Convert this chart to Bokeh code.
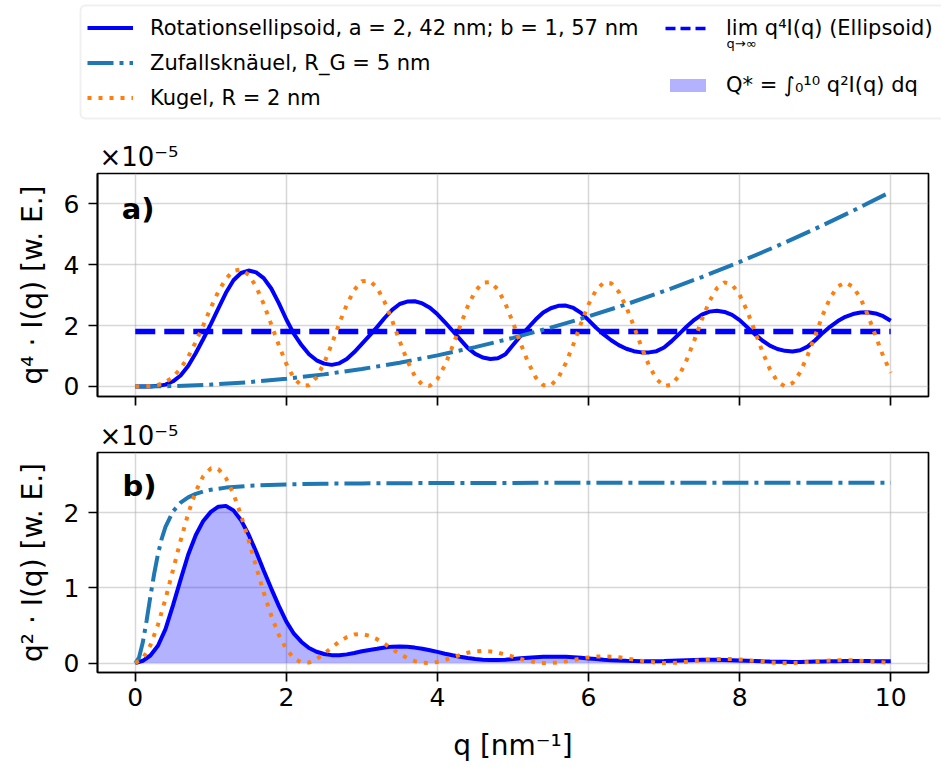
import numpy as np
from bokeh.plotting import figure
from bokeh.models import Range1d, FixedTicker, Label, Legend, LegendItem, BoxAnnotation
from bokeh.layouts import column, row
from bokeh.embed import file_html
from bokeh.resources import INLINE

FONT = "DejaVu Sans"

# q grid (nm^-1)
q = np.round(np.arange(0, 101) * 0.1, 1)

# panel a: q^4 I(q)  (x 1e-5)
ellipsoid_a = [0.00, 0.00, 0.00, 0.02, 0.06, 0.17, 0.36, 0.67, 1.09, 1.56,
               2.05, 2.57, 3.08, 3.49, 3.73, 3.81, 3.75, 3.56, 3.22, 2.74,
               2.20, 1.73, 1.36, 1.06, 0.86, 0.75, 0.71, 0.76, 0.90, 1.13,
               1.40, 1.67, 1.95, 2.25, 2.52, 2.71, 2.79, 2.80, 2.73, 2.59,
               2.37, 2.11, 1.83, 1.55, 1.27, 1.07, 0.95, 0.90, 0.93, 1.06,
               1.36, 1.66, 1.93, 2.20, 2.43, 2.57, 2.65, 2.66, 2.58, 2.42,
               2.18, 1.93, 1.71, 1.52, 1.36, 1.24, 1.16, 1.12, 1.12, 1.16,
               1.28, 1.49, 1.73, 1.97, 2.19, 2.36, 2.46, 2.49, 2.45, 2.35,
               2.18, 1.95, 1.72, 1.51, 1.34, 1.23, 1.17, 1.15, 1.19, 1.31,
               1.52, 1.76, 1.97, 2.15, 2.29, 2.38, 2.43, 2.44, 2.40, 2.31,
               2.16]
sphere_a = [0.00, 0.00, 0.01, 0.05, 0.14, 0.31, 0.59, 0.97, 1.46, 2.01,
            2.59, 3.12, 3.54, 3.80, 3.85, 3.67, 3.28, 2.71, 2.04, 1.36,
            0.74, 0.27, 0.03, 0.04, 0.30, 0.77, 1.39, 2.07, 2.69, 3.18,
            3.46, 3.48, 3.25, 2.78, 2.17, 1.49, 0.85, 0.34, 0.05, 0.02,
            0.25, 0.70, 1.32, 1.99, 2.63, 3.13, 3.41, 3.43, 3.19, 2.72,
            2.10, 1.42, 0.79, 0.30, 0.04, 0.03, 0.29, 0.77, 1.39, 2.07,
            2.70, 3.17, 3.41, 3.39, 3.11, 2.61, 1.98, 1.30, 0.69, 0.24,
            0.01, 0.06, 0.36, 0.88, 1.52, 2.20, 2.80, 3.23, 3.42, 3.35,
            3.01, 2.48, 1.82, 1.15, 0.57, 0.16, 0.00, 0.11, 0.46, 1.02,
            1.68, 2.35, 2.92, 3.29, 3.42, 3.28, 2.90, 2.33, 1.66, 1.00,
            0.45]
coil_q_a = [0, 0.5, 1, 1.5, 2, 2.5, 3, 3.5, 4, 4.5, 5, 5.5, 6, 6.5, 7, 7.5, 8, 8.5, 9, 9.5, 10]
coil_a = [0.0, 0.013, 0.061, 0.141, 0.253, 0.397, 0.573, 0.781, 1.021, 1.293, 1.597,
          1.933, 2.301, 2.701, 3.133, 3.597, 4.093, 4.621, 5.181, 5.773, 6.397]
porod_q = [0, 10]
porod_limit = [1.81, 1.81]

# panel b: q^2 I(q)  (x 1e-5)
ellipsoid_b = [0.000, 0.030, 0.100, 0.230, 0.450, 0.770, 1.110, 1.440, 1.700, 1.890,
               2.010, 2.080, 2.090, 2.030, 1.900, 1.710, 1.480, 1.230, 0.990, 0.760,
               0.550, 0.390, 0.280, 0.200, 0.150, 0.120, 0.105, 0.104, 0.115, 0.134,
               0.156, 0.174, 0.190, 0.207, 0.218, 0.221, 0.215, 0.205, 0.189, 0.170,
               0.148, 0.124, 0.103, 0.083, 0.066, 0.053, 0.045, 0.041, 0.040, 0.044,
               0.054, 0.064, 0.071, 0.078, 0.083, 0.085, 0.085, 0.082, 0.077, 0.070,
               0.061, 0.052, 0.044, 0.038, 0.033, 0.029, 0.027, 0.025, 0.024, 0.025,
               0.026, 0.030, 0.034, 0.037, 0.040, 0.042, 0.043, 0.042, 0.040, 0.038,
               0.034, 0.030, 0.026, 0.022, 0.019, 0.017, 0.016, 0.015, 0.015, 0.017,
               0.019, 0.021, 0.023, 0.025, 0.026, 0.026, 0.026, 0.026, 0.025, 0.024,
               0.022]
sphere_b = [0.000, 0.060, 0.235, 0.508, 0.853, 1.239, 1.628, 1.986, 2.281, 2.487,
            2.589, 2.579, 2.461, 2.249, 1.964, 1.632, 1.281, 0.939, 0.631, 0.375,
            0.184, 0.062, 0.006, 0.007, 0.052, 0.124, 0.206, 0.283, 0.344, 0.378,
            0.385, 0.362, 0.317, 0.256, 0.187, 0.121, 0.065, 0.025, 0.004, 0.001,
            0.015, 0.042, 0.075, 0.108, 0.136, 0.154, 0.161, 0.155, 0.138, 0.113,
            0.084, 0.055, 0.029, 0.011, 0.001, 0.001, 0.009, 0.024, 0.041, 0.060,
            0.075, 0.085, 0.089, 0.085, 0.076, 0.062, 0.045, 0.029, 0.015, 0.005,
            0.000, 0.001, 0.007, 0.017, 0.028, 0.039, 0.048, 0.054, 0.056, 0.054,
            0.047, 0.038, 0.027, 0.017, 0.008, 0.002, 0.000, 0.001, 0.006, 0.013,
            0.021, 0.028, 0.034, 0.038, 0.039, 0.036, 0.031, 0.025, 0.017, 0.010,
            0.004]
coil_q_b = [0, 0.05, 0.1, 0.15, 0.2, 0.25, 0.3, 0.35, 0.4, 0.5, 0.6, 0.7, 0.8, 0.9,
            1.0, 1.2, 1.5, 2.0, 2.5, 3, 4, 5, 6, 7, 8, 9, 10]
coil_b = [0.0, 0.073, 0.276, 0.564, 0.883, 1.186, 1.446, 1.653, 1.811, 2.017, 2.133,
          2.204, 2.250, 2.281, 2.304, 2.333, 2.357, 2.376, 2.385, 2.389, 2.394, 2.396,
          2.397, 2.398, 2.398, 2.399, 2.399]

x_ticks = [0, 2, 4, 6, 8, 10]
ticks_a = [0, 2, 4, 6]
ticks_b = [0, 1, 2]

label_ell = "Rotationsellipsoid, a = 2, 42 nm; b = 1, 57 nm"
label_coil = "Zufallsknäuel, R_G = 5 nm"
label_sph = "Kugel, R = 2 nm"
label_lim = "lim q⁴I(q) (Ellipsoid)"
label_inv = "Q* = ∫₀¹⁰ q²I(q) dq"

ELL = "#0000ff"
COIL = "#1f77b4"
SPH = "#ff7f0e"

ell_style = dict(line_color=ELL, line_width=4)
coil_style = dict(line_color=COIL, line_width=4, line_dash="26 6 4 6")
sph_style = dict(line_color=SPH, line_width=4, line_dash="4 7")
lim_style = dict(line_color=ELL, line_width=5.5, line_dash="20 9")
lim_legend_style = dict(line_color=ELL, line_width=3.3, line_dash="10 5")

FRAME_L, FRAME_R = 97, 928
xr = Range1d(-0.5, 10.5)


def style(p, offset_text):
    p.background_fill_color = "white"
    p.border_fill_color = "white"
    p.outline_line_color = "black"
    p.outline_line_width = 1.7
    p.outline_line_alpha = 1.0
    for g in (p.xgrid[0], p.ygrid[0]):
        g.grid_line_color = "#b0b0b0"
        g.grid_line_alpha = 0.5
        g.grid_line_width = 1.5
    for ax in (p.xaxis[0], p.yaxis[0]):
        ax.axis_line_width = 1.7
        ax.axis_line_color = "black"
        ax.major_tick_out = 9
        ax.major_tick_in = 0
        ax.major_tick_line_width = 1.7
        ax.minor_tick_line_color = None
        ax.major_label_text_font = FONT
        ax.major_label_text_font_size = "25px"
        ax.major_label_text_color = "black"
        ax.axis_label_text_font = FONT
        ax.axis_label_text_font_size = "28px"
        ax.axis_label_text_font_style = "normal"
        ax.axis_label_text_color = "black"
    p.yaxis[0].major_label_standoff = 9
    p.yaxis[0].axis_label_standoff = 12
    p.xaxis[0].major_label_standoff = 6
    p.xaxis[0].axis_label_standoff = 20
    p.xaxis[0].ticker = FixedTicker(ticks=x_ticks)
    p.xgrid[0].ticker = FixedTicker(ticks=x_ticks)
    p.title.text = offset_text
    p.title.text_font = FONT
    p.title.text_font_size = "26px"
    p.title.text_font_style = "normal"
    p.title.text_color = "black"
    p.title.align = "left"
    p.title.offset = 2
    p.title.standoff = 4


# ---------- legend strip (x data units == page pixels, full width frame) ----------
pl = figure(width=941, height=130, x_range=Range1d(0, 941), y_range=Range1d(130, 0),
            output_backend="svg", toolbar_location=None, x_axis_type=None, y_axis_type=None,
            min_border_left=0, min_border_right=0, min_border_top=0, min_border_bottom=0)
pl.outline_line_color = None
pl.grid.visible = False
pl.add_layout(BoxAnnotation(left=80, right=990, top=5, bottom=118, fill_color="white",
                            fill_alpha=0.8, line_color="#cccccc", line_width=2,
                            border_radius=5))
nan = [float("nan")]
d_ell = pl.line(x=nan, y=nan, **ell_style)
d_coil = pl.line(x=nan, y=nan, **coil_style)
d_sph = pl.line(x=nan, y=nan, **sph_style)
d_lim = pl.line(x=nan, y=nan, **lim_legend_style)
d_inv = pl.quad(left=nan, right=nan, top=nan, bottom=nan, fill_color=ELL, fill_alpha=0.3,
                line_color=None)

common = dict(orientation="vertical", padding=0, margin=0, border_line_color=None,
              background_fill_alpha=0, label_text_font=FONT, label_text_font_size="21px",
              label_text_color="black", label_height=25)
legA = Legend(items=[LegendItem(label=label_ell, renderers=[d_ell]),
                     LegendItem(label=label_coil, renderers=[d_coil]),
                     LegendItem(label=label_sph, renderers=[d_sph])],
              location=(87, 20), glyph_width=46, glyph_height=25, label_standoff=17,
              spacing=10, **common)
legB = Legend(items=[LegendItem(label=label_lim, renderers=[d_lim]),
                     LegendItem(label=label_inv, renderers=[d_inv])],
              location=(665, 33), glyph_width=45, glyph_height=16, label_standoff=16,
              spacing=32, **common)
pl.add_layout(legA)
pl.add_layout(legB)
pl.add_layout(Label(x=726, y=43, text="q→∞", text_font=FONT, text_font_size="13px",
                    text_color="black", text_baseline="alphabetic"))

# ---------- panel a ----------
pa = figure(width=941, height=286, x_range=xr, y_range=Range1d(-0.33, 7.0),
            output_backend="svg", toolbar_location=None,
            min_border_left=FRAME_L, min_border_right=941 - FRAME_R,
            min_border_top=43, min_border_bottom=20)
style(pa, "×10⁻⁵")
pa.yaxis[0].ticker = FixedTicker(ticks=ticks_a)
pa.ygrid[0].ticker = FixedTicker(ticks=ticks_a)
pa.yaxis[0].axis_label = "q⁴ · I(q) [w. E.]"
pa.xaxis[0].major_label_overrides = {t: "" for t in x_ticks}
pa.xaxis[0].major_label_text_font_size = "0px"
pa.xaxis[0].major_label_standoff = 0

pa.line(q, ellipsoid_a, **ell_style)
pa.line(porod_q, porod_limit, **lim_style)
pa.line(coil_q_a, coil_a, **coil_style)
pa.line(q, sphere_a, **sph_style)
pa.add_layout(Label(x=-0.18, y=5.84, text="a)", text_font=FONT, text_font_size="29px",
                    text_font_style="bold", text_color="black", text_baseline="alphabetic"))

# ---------- panel b ----------
pb = figure(width=941, height=351, x_range=xr, y_range=Range1d(-0.126, 2.80),
            output_backend="svg", toolbar_location=None,
            min_border_left=FRAME_L, min_border_right=941 - FRAME_R,
            min_border_top=34, min_border_bottom=95)
style(pb, "×10⁻⁵")
pb.yaxis[0].ticker = FixedTicker(ticks=ticks_b)
pb.ygrid[0].ticker = FixedTicker(ticks=ticks_b)
pb.yaxis[0].axis_label = "q² · I(q) [w. E.]"
pb.xaxis[0].axis_label = "q [nm⁻¹]"

pb.varea(x=q, y1=0, y2=ellipsoid_b, fill_color=ELL, fill_alpha=0.3)
pb.line(q, ellipsoid_b, **ell_style)
pb.line(coil_q_b, coil_b, **coil_style)
pb.line(q, sphere_b, **sph_style)
pb.add_layout(Label(x=-0.17, y=2.35, text="b)", text_font=FONT, text_font_size="29px",
                    text_font_style="bold", text_color="black", text_baseline="alphabetic"))

layout = column(row(pl), column(pa, pb, spacing=0), spacing=0)
open("out.html", "w").write(file_html(layout, INLINE))
